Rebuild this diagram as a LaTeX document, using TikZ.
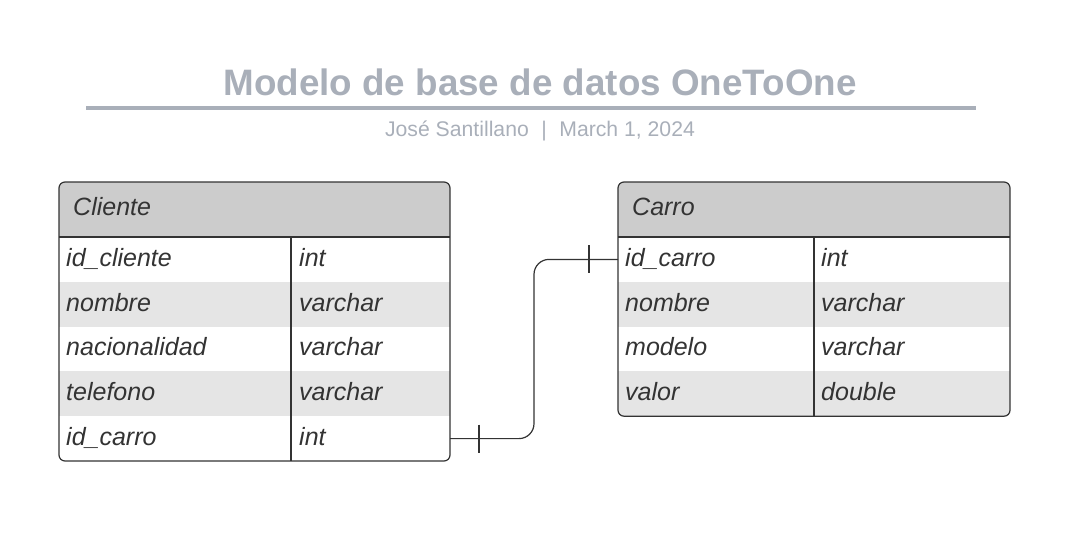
\documentclass[tikz,border=0pt]{standalone}
\usepackage{fontspec}
\setmainfont{Liberation Sans}
\usetikzlibrary{calc}
\definecolor{ttl}{RGB}{169,175,185}
\definecolor{ink}{RGB}{51,51,51}
\definecolor{hdr}{RGB}{204,204,204}
\definecolor{alt}{RGB}{229,229,229}
\begin{document}
\begin{tikzpicture}[x=1pt,y=-1pt,
  tablebox/.style={draw=ink, line width=1.2pt, rounded corners=6pt, rectangle, anchor=north west, inner sep=0pt, outer sep=0pt},
  rowbox/.style={rectangle, anchor=north west, inner sep=0pt, outer sep=0pt, minimum height=44.8pt},
  cell/.style={anchor=base west, inner sep=0pt, text=ink, font=\itshape\fontsize{25}{25}\selectfont},
  conn/.style={draw=ink, line width=1.2pt},
  rule/.style={draw=ink, line width=1.2pt}]
\useasboundingbox (0,0) rectangle (1070,536);

% title
\node[anchor=base, text=ttl, font=\bfseries\fontsize{36.8}{36.8}\selectfont, inner sep=0pt] (title) at (540,95) {Modelo de base de datos OneToOne};
\draw[ttl, line width=4pt] (86,108) -- (976,108);
\node[anchor=base, text=ttl, font=\fontsize{21.2}{21.2}\selectfont, inner sep=0pt] (sub) at (540,136) {José Santillano\hspace{12.5pt}|\hspace{12.5pt}March 1, 2024};

% ---------- Cliente ----------
\begin{scope}
\clip[rounded corners=6pt] (59,182) rectangle (450,461);
\node[rowbox, fill=hdr, minimum width=391pt, minimum height=55pt] (clh) at (59,182) {};
\node[rowbox, minimum width=391pt] (cl1) at (59,237) {};
\node[rowbox, fill=alt, minimum width=391pt] (cl2) at (59,281.8) {};
\node[rowbox, minimum width=391pt] (cl3) at (59,326.6) {};
\node[rowbox, fill=alt, minimum width=391pt] (cl4) at (59,371.4) {};
\node[rowbox, minimum width=391pt] (cl5) at (59,416.2) {};
\end{scope}
\node[tablebox, minimum width=391pt, minimum height=279pt] (cliente) at (59,182) {};
\draw[rule] (clh.south west) -- (clh.south east);
\draw[rule] (291,237) -- (291,461);
\node[cell] (clht) at ($(clh.west)+(14,5.5)$) {Cliente};
\node[cell] (cl1a) at ($(cl1.west)+(7,6.8)$) {id\_cliente};
\node[cell] (cl1b) at ($(cl1.west)+(240,6.8)$) {int};
\node[cell] (cl2a) at ($(cl2.west)+(7,6.8)$) {nombre};
\node[cell] (cl2b) at ($(cl2.west)+(240,6.8)$) {varchar};
\node[cell] (cl3a) at ($(cl3.west)+(7,6.8)$) {nacionalidad};
\node[cell] (cl3b) at ($(cl3.west)+(240,6.8)$) {varchar};
\node[cell] (cl4a) at ($(cl4.west)+(7,6.8)$) {telefono};
\node[cell] (cl4b) at ($(cl4.west)+(240,6.8)$) {varchar};
\node[cell] (cl5a) at ($(cl5.west)+(7,6.8)$) {id\_carro};
\node[cell] (cl5b) at ($(cl5.west)+(240,6.8)$) {int};

% ---------- Carro ----------
\begin{scope}
\clip[rounded corners=6pt] (618,182) rectangle (1010,416.2);
\node[rowbox, fill=hdr, minimum width=392pt, minimum height=55pt] (cah) at (618,182) {};
\node[rowbox, minimum width=392pt] (ca1) at (618,237) {};
\node[rowbox, fill=alt, minimum width=392pt] (ca2) at (618,281.8) {};
\node[rowbox, minimum width=392pt] (ca3) at (618,326.6) {};
\node[rowbox, fill=alt, minimum width=392pt] (ca4) at (618,371.4) {};
\end{scope}
\node[tablebox, minimum width=392pt, minimum height=234.2pt] (carro) at (618,182) {};
\draw[rule] (cah.south west) -- (cah.south east);
\draw[rule] (814,237) -- (814,416.2);
\node[cell] (caht) at ($(cah.west)+(14,5.5)$) {Carro};
\node[cell] (ca1a) at ($(ca1.west)+(7,6.8)$) {id\_carro};
\node[cell] (ca1b) at ($(ca1.west)+(203,6.8)$) {int};
\node[cell] (ca2a) at ($(ca2.west)+(7,6.8)$) {nombre};
\node[cell] (ca2b) at ($(ca2.west)+(203,6.8)$) {varchar};
\node[cell] (ca3a) at ($(ca3.west)+(7,6.8)$) {modelo};
\node[cell] (ca3b) at ($(ca3.west)+(203,6.8)$) {varchar};
\node[cell] (ca4a) at ($(ca4.west)+(7,6.8)$) {valor};
\node[cell] (ca4b) at ($(ca4.west)+(203,6.8)$) {double};

% ---------- connector ----------
\draw[conn, rounded corners=15pt] (cl5.east) -| ($(cl5.east)!0.5!(ca1.west)$) |- (ca1.west);
\draw[conn] ($(cl5.east)+(29,-14)$) -- ++(0,28);
\draw[conn] ($(ca1.west)+(-29,-14)$) -- ++(0,28);
\end{tikzpicture}
\end{document}
